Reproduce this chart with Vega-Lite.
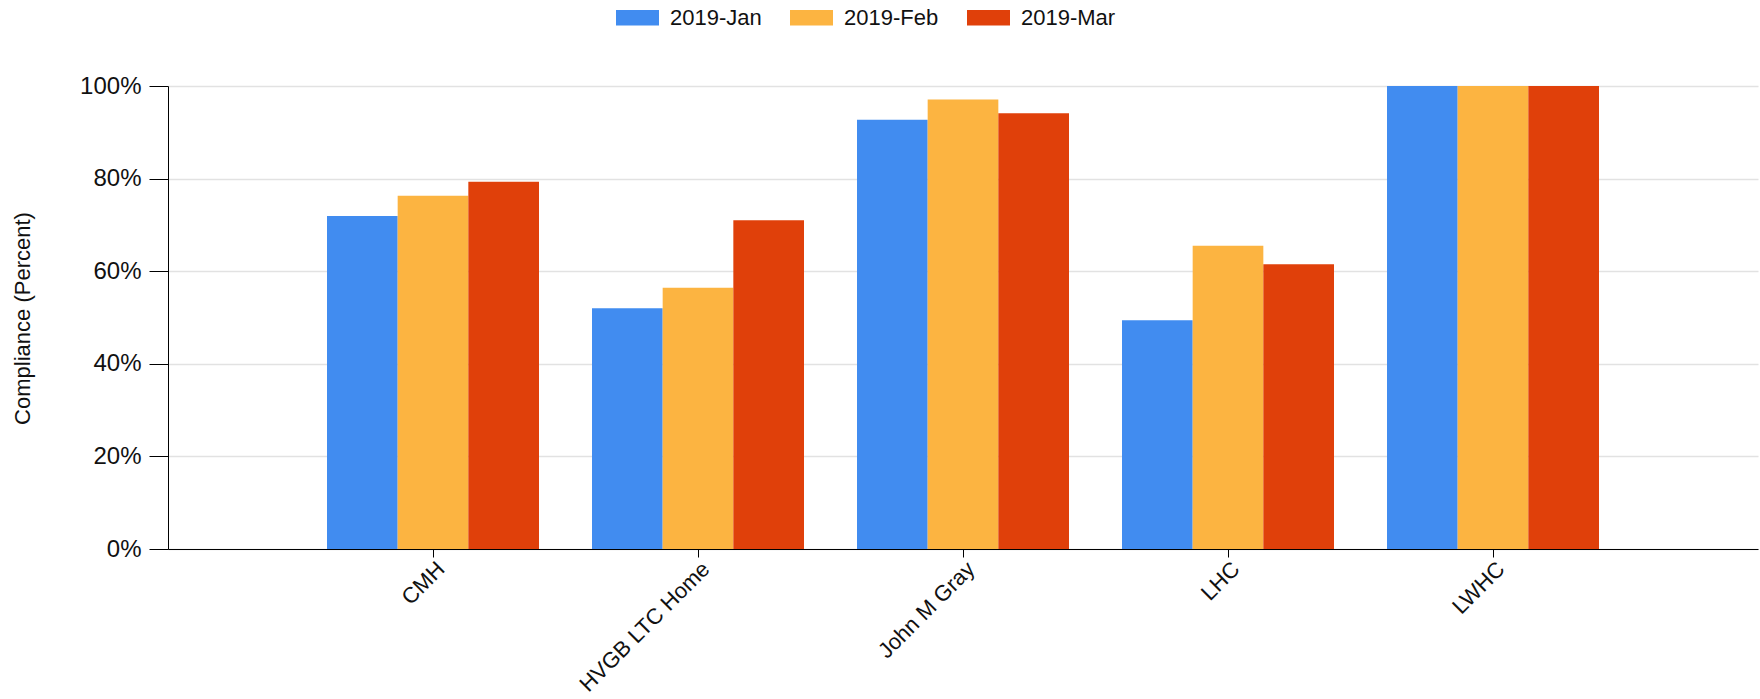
{
  "$schema": "https://vega.github.io/schema/vega-lite/v6.json",
  "width": 1590,
  "height": 463,
  "autosize": {"type": "none"},
  "padding": {"left": 168, "top": 86, "right": 2, "bottom": 150},
  "background": "white",
  "data": {
    "values": [
      {"facility": "CMH", "month": "2019-Jan", "compliance": 0.719},
      {"facility": "CMH", "month": "2019-Feb", "compliance": 0.763},
      {"facility": "CMH", "month": "2019-Mar", "compliance": 0.793},
      {"facility": "HVGB LTC Home", "month": "2019-Jan", "compliance": 0.520},
      {"facility": "HVGB LTC Home", "month": "2019-Feb", "compliance": 0.564},
      {"facility": "HVGB LTC Home", "month": "2019-Mar", "compliance": 0.710},
      {"facility": "John M Gray", "month": "2019-Jan", "compliance": 0.927},
      {"facility": "John M Gray", "month": "2019-Feb", "compliance": 0.971},
      {"facility": "John M Gray", "month": "2019-Mar", "compliance": 0.941},
      {"facility": "LHC", "month": "2019-Jan", "compliance": 0.494},
      {"facility": "LHC", "month": "2019-Feb", "compliance": 0.655},
      {"facility": "LHC", "month": "2019-Mar", "compliance": 0.615},
      {"facility": "LWHC", "month": "2019-Jan", "compliance": 1.0},
      {"facility": "LWHC", "month": "2019-Feb", "compliance": 1.0},
      {"facility": "LWHC", "month": "2019-Mar", "compliance": 1.0}
    ]
  },
  "mark": {"type": "bar"},
  "encoding": {
    "x": {
      "field": "facility",
      "type": "nominal",
      "sort": ["CMH", "HVGB LTC Home", "John M Gray", "LHC", "LWHC"],
      "scale": {"paddingInner": 0.2, "paddingOuter": 0.6},
      "axis": {
        "title": null,
        "labelAngle": -45,
        "labelAlign": "right",
        "labelBaseline": "top",
        "labelFont": "Liberation Sans",
        "labelFontSize": 22,
        "labelColor": "#111",
        "labelPadding": 1,
        "labelOffset": 1,
        "tickSize": 8,
        "tickColor": "#000",
        "domainColor": "#000",
        "grid": false
      }
    },
    "xOffset": {
      "field": "month",
      "type": "nominal",
      "sort": ["2019-Jan", "2019-Feb", "2019-Mar"],
      "scale": {"paddingInner": 0, "paddingOuter": 0}
    },
    "y": {
      "field": "compliance",
      "type": "quantitative",
      "scale": {"domain": [0, 1]},
      "axis": {
        "title": "Compliance (Percent)",
        "values": [0, 0.2, 0.4, 0.6, 0.8, 1],
        "format": ".0%",
        "labelFont": "Liberation Sans",
        "labelFontSize": 24,
        "labelColor": "#111",
        "labelPadding": 8,
        "tickSize": 19,
        "tickColor": "#000",
        "domainColor": "#000",
        "grid": true,
        "gridColor": "#e2e2e2",
        "gridWidth": 1.5,
        "titleFont": "Liberation Sans",
        "titleFontSize": 22,
        "titleFontWeight": "normal",
        "titleColor": "#111",
        "titleAngle": -90,
        "titleX": -146,
        "titleY": 232,
        "titleAlign": "center",
        "titleBaseline": "middle"
      }
    },
    "color": {
      "field": "month",
      "type": "nominal",
      "scale": {
        "domain": ["2019-Jan", "2019-Feb", "2019-Mar"],
        "range": ["#418CF0", "#FCB441", "#E0400A"]
      },
      "legend": {
        "title": null,
        "orient": "none",
        "direction": "horizontal",
        "legendX": 448,
        "legendY": -90,
        "symbolType": "M-1,-0.36H1V0.36H-1Z",
        "symbolSize": 1849,
        "symbolStrokeWidth": 0,
        "symbolOpacity": 1,
        "labelFont": "Liberation Sans",
        "labelFontSize": 22,
        "labelColor": "#111",
        "labelOffset": 11,
        "columnPadding": 28
      }
    }
  },
  "config": {"view": {"stroke": null}}
}
